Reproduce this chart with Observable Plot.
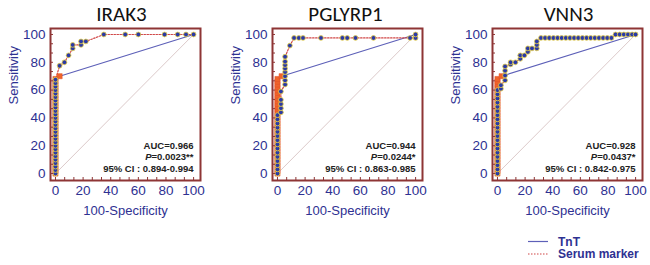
<!DOCTYPE html>
<html>
<head>
<meta charset="utf-8">
<script src="https://cdn.jsdelivr.net/npm/d3@7"></script>
<script src="https://cdn.jsdelivr.net/npm/@observablehq/plot@0.6"></script>
<style>
  html, body { margin: 0; padding: 0; background: #fff; }
  #chart { position: relative; width: 650px; height: 265px; overflow: hidden; font-family: "Liberation Sans", Arial, sans-serif; }
  #chart > svg { position: absolute; top: 0; }
</style>
</head>
<body>
<div id="chart"></div>
<script>
// ---- data ----
const panels = ["IRAK3", "PGLYRP1", "VNN3"];
const aucText = ["AUC=0.966", "AUC=0.944", "AUC=0.928"];
const pText = ["=0.0023**", "=0.0244*", "=0.0437*"];
const ciText = ["95% CI : 0.894-0.994", "95% CI : 0.863-0.985", "95% CI : 0.842-0.975"];
const seriesNames = ["TnT", "Serum marker"];
const xTicks = [0, 20, 40, 60, 80, 100];
const yTicks = [0, 20, 40, 60, 80, 100];
const xLabel = "100-Specificity";
const yLabel = "Sensitivity";

// TnT ROC curve (100-Specificity, Sensitivity), shared by all panels
const tnt = [[0,0],[0,2],[0,4],[0,6],[0,8],[0,10],[0,12],[0,14],[0,16],[0,18],[0,20],[0,22],[0,24],[0,26],[0,28],[0,30],[0,32],[0,34],[0,36],[0,38],[0,40],[0,42],[0,44],[0,46],[0,48],[0,50],[0,52],[0,54],[0,56],[0,58],[0,60],[0,62],[0,64],[0,66],[0,68],[3,70],[100,100]];

// Serum marker ROC curves
const serumIRAK3 = [[0,0],[0,2.5],[0,5],[0,7.5],[0,10],[0,12.5],[0,15],[0,17.5],[0,20],[0,22.5],[0,25],[0,27.5],[0,30],[0,32.5],[0,35],[0,37.5],[0,40],[0,42.5],[0,45],[0,47.5],[0,50],[0,52.5],[0,55],[0,57.5],[0,60],[0,62.5],[0,65],[0,67.5],[3,77.5],[6.5,80],[9.5,85],[12.5,90],[12.5,92.5],[18.5,92.5],[18.5,95],[22,95],[35,100],[50.5,100],[60,100],[79,100],[88.5,100],[94.5,100],[100,100]];
const serumPGLYRP1 = [[0,0],[0,3],[0,6],[0,9],[0,12],[0,15],[0,18],[0,21],[0,24],[0,27],[0,30],[0,33],[0,36],[0,39],[0,42],[2.5,44],[2.5,47],[2.5,50],[2.5,53],[2.5,59],[5.5,64],[5.5,67],[5.5,70],[5.5,73],[5.5,75.5],[5.5,78],[5.5,80.5],[5.5,84],[9,92],[12,97.5],[15.5,97.5],[18.5,97.5],[31.5,97.5],[47,97.5],[50.5,97.5],[56.5,97.5],[69.5,97.5],[96,97.5],[100,97.5],[100,100]];
const serumVNN3 = [[0,0],[0,3],[0,6],[0,9],[0,12],[0,15],[0,18],[0,21],[0,24],[0,27],[0,30],[0,33],[0,36],[0,39],[0,42],[0,45],[0,48],[0,51],[0,54],[0,57],[0,60],[2.5,61],[2.5,63.5],[5.5,67],[5.5,70.5],[5.5,74],[5.5,77],[9.5,78.5],[9.5,80],[13,80],[16.5,82.5],[16.5,85],[19.5,85],[22,87.5],[22,90],[25,90],[28.5,90],[28.5,92.5],[28.5,95],[31.5,97.5],[34.5,97.5],[37.5,97.5],[40.5,97.5],[43.5,97.5],[46.5,97.5],[49.5,97.5],[52.5,97.5],[55.5,97.5],[58.5,97.5],[61.5,97.5],[64.5,97.5],[67.5,97.5],[70.5,97.5],[73.5,97.5],[76.5,97.5],[79.5,97.5],[82.5,97.5],[85.5,100],[88.5,100],[91.5,100],[94.5,100],[97.5,100],[100,100]];
const serumSets = [serumIRAK3, serumPGLYRP1, serumVNN3];
const diagonal = [[0,0],[100,100]];

// ---- styles ----
const navy = "#2e3192";
const frameColor = "#8e3535";
const fontFam = "Liberation Sans, Arial, sans-serif";
const minorTicks = d3.range(0, 16).map(i => i * 20 / 3);
const panelLeft = [0, 222, 442];
const titleShift = [-4, -2, 1];

const chart = document.getElementById("chart");

panels.forEach((name, i) => {
  const serum = serumSets[i];
  const svg = Plot.plot({
    width: 208,
    height: 225,
    marginLeft: 50,
    marginRight: 8,
    marginTop: 28,
    marginBottom: 45,
    style: {fontFamily: fontFam, background: "transparent", overflow: "visible"},
    x: {domain: [-3.6, 105]},
    y: {domain: [-5, 104.3]},
    marks: [
      Plot.line(diagonal, {x: d => d[0], y: d => d[1], stroke: "#dccaca", strokeWidth: 1}),
      Plot.line(tnt, {x: d => d[0], y: d => d[1], stroke: "#5d60b8", strokeWidth: 1.2}),
      Plot.line(serum, {x: d => d[0], y: d => d[1], stroke: "#d04646", strokeWidth: 1.2, strokeDasharray: "1.5,1.5"}),
      Plot.dot(tnt.slice(0, -1), {x: d => d[0], y: d => d[1], symbol: "square", r: 2.9, fill: "#f0642a", stroke: "#e0502a", strokeWidth: 0.5}),
      Plot.dot(serum, {x: d => d[0], y: d => d[1], r: 2.4, fill: "#2b3aa6", stroke: "#e8d048", strokeWidth: 0.8}),
      Plot.frame({stroke: frameColor, strokeWidth: 2}),
      Plot.tickX(minorTicks, {x: d => d, stroke: frameColor, strokeWidth: 1, insetTop: 149}),
      Plot.tickY(minorTicks, {y: d => d, stroke: frameColor, strokeWidth: 1, insetRight: 147}),
      Plot.axisX({ticks: xTicks, tickSize: 0, tickPadding: 5, fontSize: 13.5, color: navy, label: null}),
      Plot.axisY({ticks: yTicks, tickSize: 0, tickPadding: 5, fontSize: 13.5, color: navy, label: null}),
      Plot.text([xLabel], {frameAnchor: "bottom", lineAnchor: "middle", dy: 30, fontSize: 13, fill: navy, text: d => d}),
      Plot.text([yLabel], {frameAnchor: "left", lineAnchor: "middle", dx: -37, rotate: -90, fontSize: 13, fill: navy, text: d => d}),
      Plot.text([name], {frameAnchor: "top", lineAnchor: "middle", dx: titleShift[i], dy: -14.5, fontSize: 21, fill: "#111", text: d => d, fontFamily: "Carlito, Liberation Sans Narrow, Roboto, sans-serif"}),
      Plot.text([aucText[i]], {frameAnchor: "bottom-right", lineAnchor: "middle", textAnchor: "end", dx: -7, dy: -35, fontSize: 9.5, fontWeight: "bold", fill: "#222", text: d => d}),
      Plot.text([pText[i]], {frameAnchor: "bottom-right", lineAnchor: "middle", textAnchor: "end", dx: -7, dy: -23.5, fontSize: 9.5, fontWeight: "bold", fill: "#222", text: d => "P" + d, className: "ptext"}),
      Plot.text([ciText[i]], {frameAnchor: "bottom-right", lineAnchor: "middle", textAnchor: "end", dx: -7, dy: -12, fontSize: 9.5, fontWeight: "bold", fill: "#222", text: d => d})
    ]
  });
  svg.style.left = panelLeft[i] + "px";
  // italic P
  d3.select(svg).selectAll(".ptext text").each(function() {
    const t = d3.select(this);
    const s = t.text();
    t.text(null);
    t.append("tspan").attr("font-style", "italic").text(s.slice(0, 1));
    t.append("tspan").text(s.slice(1));
  });
  chart.appendChild(svg);
});

// legend
const leg = d3.create("svg").attr("width", 130).attr("height", 32)
  .style("position", "absolute").style("left", "524px").style("top", "233px")
  .attr("font-family", fontFam);
const legItems = [
  {name: seriesNames[0], stroke: "#5d60b8", dash: null},
  {name: seriesNames[1], stroke: "#d04646", dash: "1.5,1.5"}
];
legItems.forEach((it, k) => {
  const yy = 8.5 + k * 12.5;
  leg.append("line").attr("x1", 4).attr("x2", 24).attr("y1", yy).attr("y2", yy)
    .attr("stroke", it.stroke).attr("stroke-width", 1.2).attr("stroke-dasharray", it.dash);
  leg.append("text").attr("x", 34).attr("y", yy).attr("dy", "0.35em")
    .attr("font-size", 12).attr("font-weight", "bold").attr("fill", navy).text(it.name);
});
chart.appendChild(leg.node());
</script>
</body>
</html>
